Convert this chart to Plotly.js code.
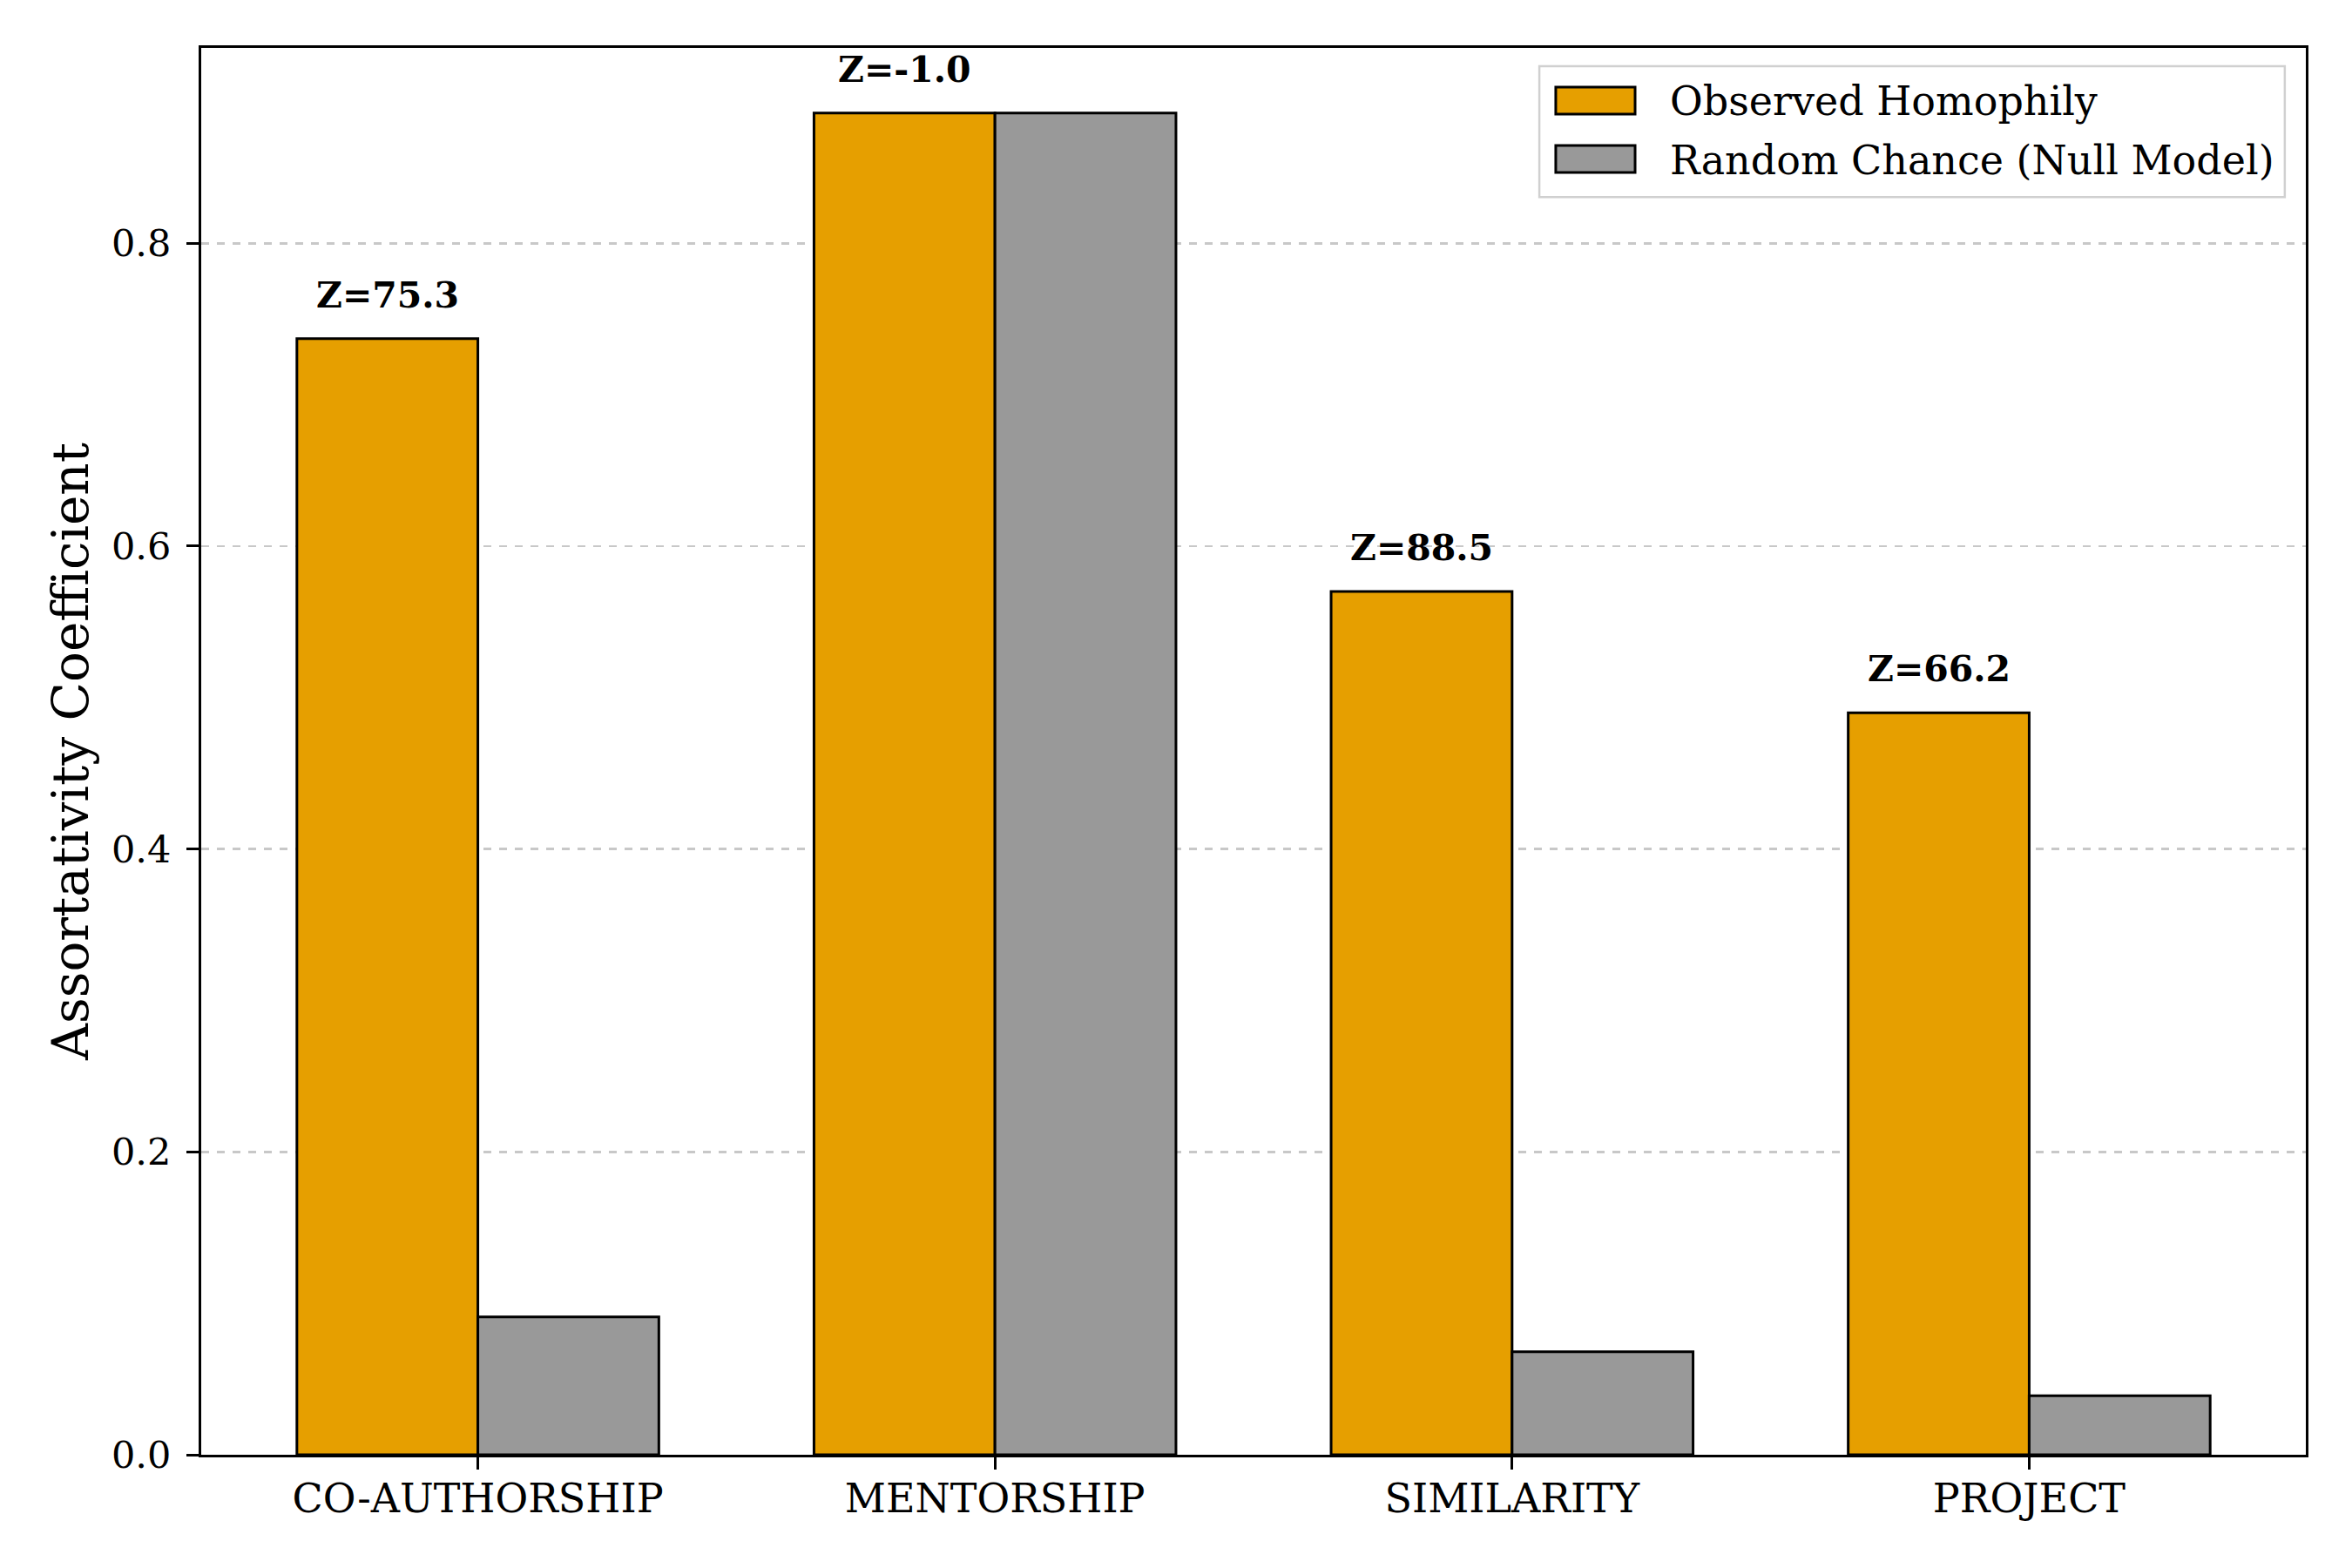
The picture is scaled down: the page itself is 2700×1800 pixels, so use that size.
<!DOCTYPE html>
<html>
<head>
<meta charset="utf-8">
<script src="https://cdn.plot.ly/plotly-3.0.1.min.js"></script>
<style>html,body{margin:0;padding:0;background:#fff;}</style>
</head>
<body>
<div id="chart" style="width:2700px;height:1800px;"></div>
<script>
const categories = ["CO-AUTHORSHIP", "MENTORSHIP", "SIMILARITY", "PROJECT"];
const observed = [0.737, 0.886, 0.570, 0.490];
const nullModel = [0.091, 0.886, 0.068, 0.039];
const zScores = [75.3, -1.0, 88.5, 66.2];
const seriesNames = ["Observed Homophily", "Random Chance (Null Model)"];
const seriesColors = ["#E69F00", "#999999"];

const barWidth = 0.35;
const xIdx = categories.map((_, i) => i);
const FONT = "DejaVu Serif, serif";

const traces = [
  {
    type: "bar", name: seriesNames[0],
    x: xIdx.map(i => i - barWidth / 2), y: observed, width: barWidth,
    marker: {color: seriesColors[0], line: {color: "#000", width: 3}},
    showlegend: false, hoverinfo: "y"
  },
  {
    type: "bar", name: seriesNames[1],
    x: xIdx.map(i => i + barWidth / 2), y: nullModel, width: barWidth,
    marker: {color: seriesColors[1], line: {color: "#000", width: 3}},
    showlegend: false, hoverinfo: "y"
  }
];

const annotations = xIdx.map(i => ({
  x: i - barWidth / 2, y: observed[i], xref: "x", yref: "y",
  text: "<b>Z=" + zScores[i].toFixed(1) + "</b>",
  showarrow: false, yanchor: "bottom", xanchor: "center", yshift: 24,
  font: {family: FONT, size: 41, color: "#000"}
}));

// custom legend (matplotlib-like)
const legPatchX = [0.6436, 0.6813];
const legRows = [[0.9529, 0.9721], [0.9115, 0.9307]];
const legTextY = [0.9622, 0.9200];
const shapes = [
  {type: "rect", xref: "paper", yref: "paper", x0: 0.6358, x1: 0.990, y0: 0.894, y1: 0.987,
   line: {color: "#d0d0d0", width: 2.5}, fillcolor: "rgba(255,255,255,0.85)", layer: "above"}
];
seriesNames.forEach((n, k) => {
  shapes.push({type: "rect", xref: "paper", yref: "paper",
    x0: legPatchX[0], x1: legPatchX[1], y0: legRows[k][0], y1: legRows[k][1],
    line: {color: "#000", width: 3}, fillcolor: seriesColors[k], layer: "above"});
  annotations.push({xref: "paper", yref: "paper", x: 0.697, y: legTextY[k],
    xanchor: "left", yanchor: "middle", showarrow: false, text: n,
    font: {family: FONT, size: 46, color: "#000"}});
});

const layout = {
  width: 2700, height: 1800,
  margin: {l: 231, r: 53, t: 55, b: 130, pad: 0},
  paper_bgcolor: "#fff", plot_bgcolor: "#fff",
  font: {family: FONT, color: "#000"},
  barmode: "overlay",
  bargap: 0,
  xaxis: {
    range: [-0.535, 3.535],
    tickmode: "array", tickvals: xIdx, ticktext: categories,
    showgrid: false, zeroline: false,
    showline: true, mirror: true, linecolor: "#000", linewidth: 3,
    ticks: "outside", ticklen: 14, tickwidth: 3, tickcolor: "#000",
    tickfont: {family: FONT, size: 46, color: "#000"},
    ticklabelstandoff: -6
  },
  yaxis: {
    range: [0, 0.929],
    tickmode: "array", tickvals: [0, 0.2, 0.4, 0.6, 0.8],
    ticktext: ["0.0", "0.2", "0.4", "0.6", "0.8"],
    showgrid: true, gridcolor: "#c8c8c8", gridwidth: 2.5, griddash: "dash",
    zeroline: false,
    showline: true, mirror: true, linecolor: "#000", linewidth: 3,
    ticks: "outside", ticklen: 14, tickwidth: 3, tickcolor: "#000",
    tickfont: {family: FONT, size: 43, color: "#000"},
    ticklabelstandoff: 9,
    title: {text: "Assortativity Coefficient", font: {family: FONT, size: 58, color: "#000"}, standoff: 8}
  },
  annotations: annotations,
  shapes: shapes,
  showlegend: false
};

Plotly.newPlot("chart", traces, layout, {displayModeBar: false, staticPlot: true});
</script>
</body>
</html>
